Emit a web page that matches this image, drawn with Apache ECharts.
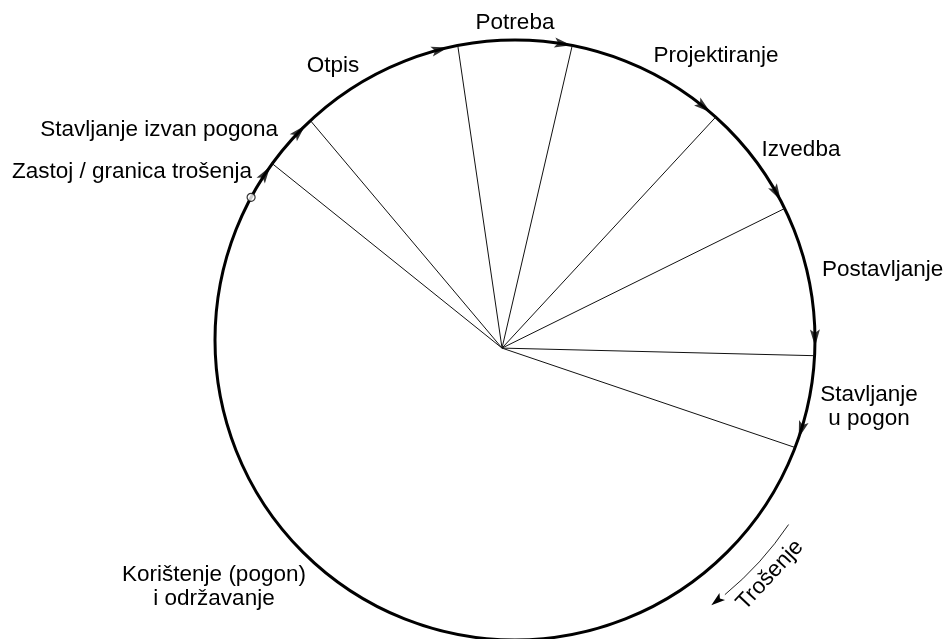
<!DOCTYPE html>
<html>
<head>
<meta charset="utf-8">
<title>Životni ciklus</title>
<script src="https://cdn.jsdelivr.net/npm/echarts@6/dist/echarts.min.js"></script>
<style>
  html, body { margin: 0; padding: 0; background: #fff; }
  #chart { width: 944px; height: 639px; }
</style>
</head>
<body>
<div id="chart"></div>
<script>
// faze životnog ciklusa (redom, u smjeru kazaljke)
const phases = [
  'Potreba',
  'Projektiranje',
  'Izvedba',
  'Postavljanje',
  'Stavljanje\nu pogon',
  'Korištenje (pogon)\ni održavanje',
  'Zastoj / granica trošenja',
  'Stavljanje izvan pogona',
  'Otpis'
]
// kutovi granica (stupnjevi, od vrha u smjeru kazaljke)
const spokeAngles = [349, 11, 42, 64, 93, 111, 306, 317]
// kutovi strelica na kružnici
const arrowAngles = [9.2, 39, 60.7, 89.6, 107.4, 303.7, 314, 345.5]
// oznaka početka trošenja
const markerAngles = [298.4]
// strelica "Trošenje" (od, do)
const wearArc = [124, 141.5]
const wearLabel = 'Trošenje'

const chart = echarts.init(document.getElementById('chart'))

const HUB = [0.051, 238] // položaj središta zraka (r, kut)
const FONT = '22.5px "Liberation Sans", Arial, sans-serif'

// položaji natpisa, istim redom kao phases
const labelLayout = [
  { x: 515, y: 23, align: 'center' },
  { x: 716, y: 56, align: 'center' },
  { x: 801, y: 150, align: 'center' },
  { x: 822, y: 270, align: 'left' },
  { x: 869, y: 407, align: 'center' },
  { x: 214, y: 587, align: 'center' },
  { x: 252, y: 172, align: 'right' },
  { x: 278, y: 130, align: 'right' },
  { x: 333, y: 66, align: 'center' }
]

const hidden = {
  axisLine: { show: false },
  axisTick: { show: false },
  axisLabel: { show: false },
  splitLine: { show: false }
}

const option = {
  animation: false,
  backgroundColor: '#fff',
  polar: { center: [515, 340], radius: 300 },
  angleAxis: {
    type: 'value',
    min: 0,
    max: 360,
    startAngle: 90,
    clockwise: true,
    ...hidden,
    axisLine: { show: true, lineStyle: { color: '#000', width: 3 } }
  },
  radiusAxis: { type: 'value', min: 0, max: 1, ...hidden },
  series: [
    {
      // zrake
      type: 'custom',
      coordinateSystem: 'polar',
      data: spokeAngles.map(a => [1, a]),
      renderItem: (params, api) => {
        const p0 = api.coord(HUB)
        const p1 = api.coord([api.value(0), api.value(1)])
        return {
          type: 'line',
          shape: { x1: p0[0], y1: p0[1], x2: p1[0], y2: p1[1] },
          style: { stroke: '#111', lineWidth: 1 }
        }
      }
    },
    {
      // strelice smjera
      type: 'scatter',
      coordinateSystem: 'polar',
      symbol: 'path://M0,0 L4,14 L0,11 L-4,14 Z',
      symbolSize: [10, 17],
      itemStyle: { color: '#000' },
      data: arrowAngles.map(a => ({ value: [1, a], symbolRotate: -90 - a }))
    },
    {
      type: 'scatter',
      coordinateSystem: 'polar',
      symbol: 'circle',
      symbolSize: 8,
      itemStyle: { color: '#fff', borderColor: '#000', borderWidth: 1.2 },
      data: markerAngles.map(a => [1, a])
    },
    {
      // luk "Trošenje"
      type: 'custom',
      coordinateSystem: 'polar',
      data: [wearArc],
      renderItem: (params, api) => {
        const cs = params.coordSys
        const R = cs.r * 1.1
        const a0 = api.value(0), a1 = api.value(1)
        const rad = d => (d - 90) * Math.PI / 180
        const th = a1 * Math.PI / 180
        const t = [Math.cos(th), Math.sin(th)]
        const n = [-t[1], t[0]]
        const thR = (a1 + 2) * Math.PI / 180
        const tip = [cs.cx + R * Math.sin(thR), cs.cy - R * Math.cos(thR)]
        const L = 14, W = 4.5
        const base = [tip[0] - L * t[0], tip[1] - L * t[1]]
        return {
          type: 'group',
          children: [
            {
              type: 'arc',
              shape: { cx: cs.cx, cy: cs.cy, r: R, startAngle: rad(a0), endAngle: rad(a1 - 1), clockwise: true },
              style: { fill: 'none', stroke: '#222', lineWidth: 1 }
            },
            {
              type: 'polygon',
              shape: {
                points: [
                  tip,
                  [base[0] + W * n[0], base[1] + W * n[1]],
                  [base[0] + 3 * t[0], base[1] + 3 * t[1]],
                  [base[0] - W * n[0], base[1] - W * n[1]]
                ]
              },
              style: { fill: '#000' }
            }
          ]
        }
      }
    }
  ],
  graphic: [
    ...phases.map((name, i) => ({
      type: 'text',
      x: labelLayout[i].x,
      y: labelLayout[i].y,
      style: {
        text: name,
        font: FONT,
        fill: '#000',
        align: labelLayout[i].align,
        verticalAlign: 'middle',
        lineHeight: 24
      }
    })),
    {
      type: 'text',
      x: 770,
      y: 575,
      rotation: 47 * Math.PI / 180,
      style: { text: wearLabel, font: FONT, fill: '#000', align: 'center', verticalAlign: 'middle' }
    }
  ]
}

chart.setOption(option)
</script>
</body>
</html>
